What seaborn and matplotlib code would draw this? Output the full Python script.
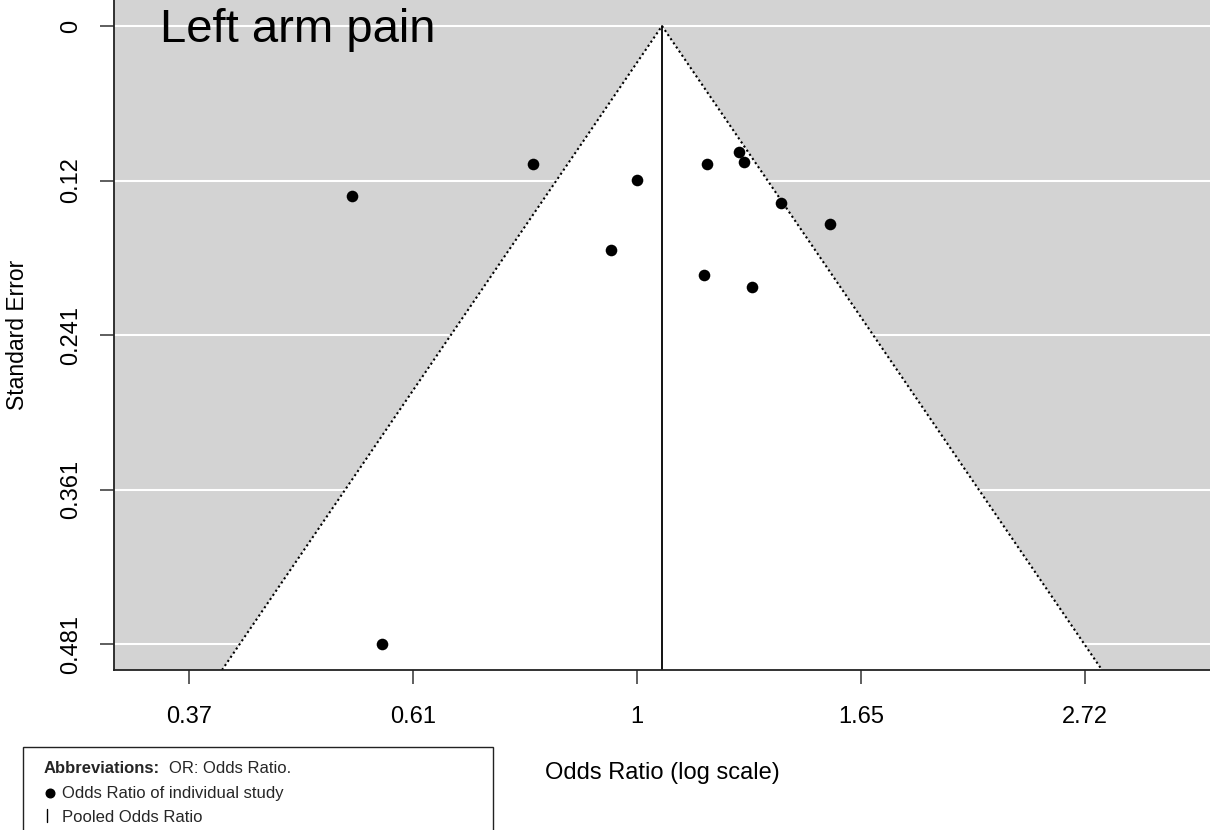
import numpy as np
import matplotlib
matplotlib.use("Agg")
import matplotlib.pyplot as plt
import seaborn as sns
import pandas as pd
from matplotlib.patches import Rectangle, Polygon
from matplotlib.lines import Line2D
from matplotlib.ticker import NullLocator

# ---- data ----
study_or = [0.794, 1.001, 0.945, 1.170, 1.255, 1.271, 1.380, 1.540, 1.163, 1.294, 0.530, 0.567]
study_se = [0.107, 0.120, 0.174, 0.107, 0.098, 0.106, 0.138, 0.154, 0.194, 0.203, 0.132, 0.481]
pooled_or = 1.058
y_ticks = [0, 0.12025, 0.2405, 0.36075, 0.481]
y_tick_labels = ["0", "0.12", "0.241", "0.361", "0.481"]
x_ticks = [0.3679, 0.6065, 1.0, 1.6487, 2.7183]
x_tick_labels = ["0.37", "0.61", "1", "1.65", "2.72"]
title = "Left arm pain"
x_label = "Odds Ratio (log scale)"
y_label = "Standard Error"
legend_lines = ["Odds Ratio of individual study", "Pooled Odds Ratio"]

df = pd.DataFrame({"OR": study_or, "SE": study_se})

sns.set_theme(style="white")
plt.rcParams['font.family'] = ['Liberation Sans', 'DejaVu Sans']

W, H = 1210, 830
fig = plt.figure(figsize=(W / 100, H / 100), dpi=100)

def fx(px):
    return px / W

def fy(py):
    return 1 - py / H

ax = fig.add_axes([fx(114), fy(670), fx(1210) - fx(114), fy(0) - fy(670)])
ax.set_facecolor('#d3d3d3')

lp = np.log(pooled_or)
se_top, se_bot = -0.0202, 0.501
half = 1.223
ax.set_xscale('log')
ax.set_xlim(np.exp(lp - half), np.exp(lp + half))
ax.set_ylim(se_bot, se_top)

# gridlines
for yt in y_ticks:
    ax.axhline(yt, color='white', lw=1.5, zorder=0.5)

# funnel region
xl_b = np.exp(lp - 1.96 * se_bot)
xr_b = np.exp(lp + 1.96 * se_bot)
ax.add_patch(Polygon([[xl_b, se_bot], [pooled_or, 0], [xr_b, se_bot]],
                     closed=True, facecolor='white', edgecolor='none', zorder=1))
ax.plot([xl_b, pooled_or, xr_b], [se_bot, 0, se_bot], color='black',
        lw=1.5, linestyle=(0, (1, 1.4)), zorder=2)
ax.plot([pooled_or, pooled_or], [0, se_bot], color='black', lw=1.3, zorder=2)

sns.scatterplot(data=df, x="OR", y="SE", color='black', s=70, linewidth=0,
                ax=ax, zorder=5, legend=False)

ax.xaxis.set_minor_locator(NullLocator())
ax.yaxis.set_minor_locator(NullLocator())
ax.set_xticks(x_ticks, x_tick_labels)
ax.set_yticks(y_ticks, y_tick_labels, rotation=90, va='center')
ax.tick_params(axis='both', bottom=True, left=True, length=10, width=1.1,
               color='#333333', labelsize=17, labelcolor='black', direction='out')
ax.tick_params(axis='x', pad=16)
ax.tick_params(axis='y', pad=13)

for s in ['top', 'right']:
    ax.spines[s].set_visible(False)
for s in ['left', 'bottom']:
    ax.spines[s].set_color('#222222')
    ax.spines[s].set_linewidth(1.3)

ax.set_xlabel(x_label, fontsize=17, color='black', va='center')
ax.xaxis.set_label_coords(0.5, (670 - 773) / 670)
ax.set_ylabel(y_label, fontsize=16.5, color='black', va='center')
ax.yaxis.set_label_coords((18 - 114) / 1096, 0.5)

fig.text(fx(160), fy(42), title, fontsize=34, color='black', va='baseline', ha='left')

# legend box
fig.add_artist(Rectangle((fx(23), fy(850)), fx(493) - fx(23), fy(747) - fy(850),
                         transform=fig.transFigure, facecolor='white',
                         edgecolor='#222222', lw=1.0))
fig.text(fx(44), fy(773), "Abbreviations:", fontsize=12, fontweight='bold',
         va='baseline', ha='left')
fig.text(fx(169), fy(773), "OR: Odds Ratio.", fontsize=12, va='baseline', ha='left')
fig.add_artist(Line2D([fx(50)], [fy(792.5)], marker='o', markersize=6.2,
                      color='black', linestyle='none', transform=fig.transFigure))
fig.text(fx(62), fy(798), legend_lines[0], fontsize=12, va='baseline', ha='left')
fig.add_artist(Line2D([fx(47), fx(47)], [fy(809), fy(822)], color='black', lw=1.0,
                      transform=fig.transFigure))
fig.text(fx(62), fy(821.5), legend_lines[1], fontsize=12, va='baseline', ha='left')

fig.savefig("out.png", dpi=100)
